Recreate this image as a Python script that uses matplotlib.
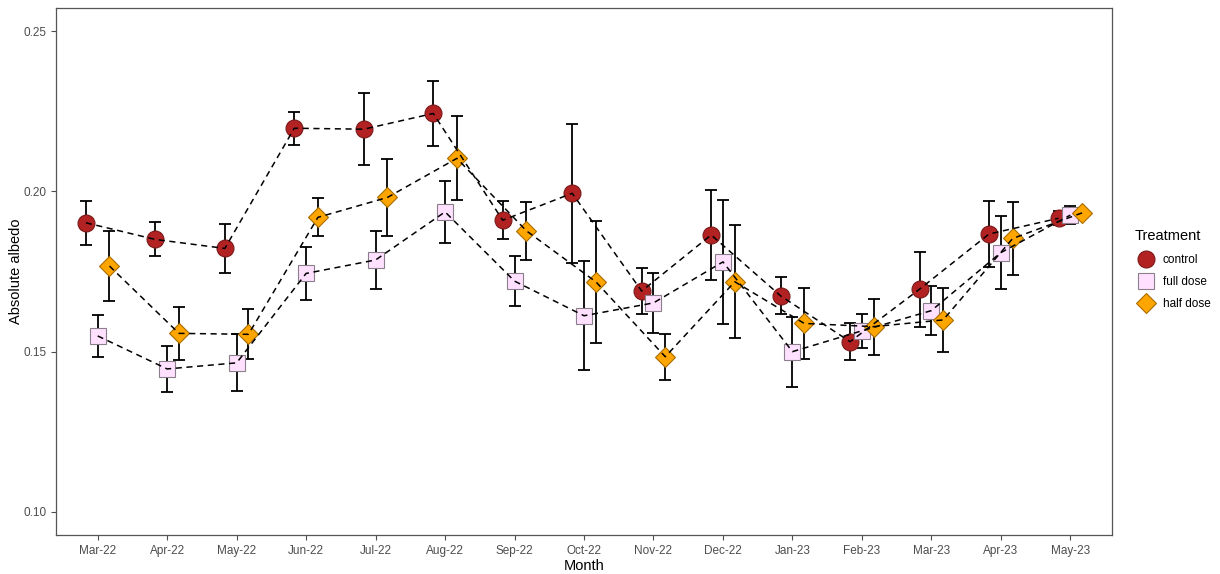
import matplotlib
matplotlib.use("Agg")
import matplotlib.pyplot as plt
import numpy as np

plt.rcParams['font.family'] = ['Liberation Sans', 'DejaVu Sans']

months = ["Mar-22", "Apr-22", "May-22", "Jun-22", "Jul-22", "Aug-22", "Sep-22", "Oct-22",
          "Nov-22", "Dec-22", "Jan-23", "Feb-23", "Mar-23", "Apr-23", "May-23"]

control_mean = [0.1902, 0.1850, 0.1822, 0.2197, 0.2194, 0.2243, 0.1910, 0.1994,
                0.1689, 0.1864, 0.1674, 0.1531, 0.1695, 0.1867, 0.1916]
control_se = [0.0068, 0.0053, 0.0077, 0.0052, 0.0112, 0.0102, 0.0060, 0.0216,
              0.0072, 0.0140, 0.0058, 0.0057, 0.0117, 0.0102, 0.0022]

full_mean = [0.1549, 0.1446, 0.1465, 0.1744, 0.1786, 0.1936, 0.1720, 0.1612,
             0.1652, 0.1780, 0.1500, 0.1565, 0.1628, 0.1809, 0.1926]
full_se = [0.0066, 0.0073, 0.0089, 0.0083, 0.0090, 0.0097, 0.0077, 0.0170,
           0.0094, 0.0193, 0.0109, 0.0053, 0.0077, 0.0115, 0.0028]

half_mean = [0.1767, 0.1557, 0.1554, 0.1919, 0.1981, 0.2103, 0.1877, 0.1718,
             0.1484, 0.1718, 0.1588, 0.1578, 0.1599, 0.1853, 0.1933]
half_se = [0.0110, 0.0083, 0.0078, 0.0059, 0.0121, 0.0131, 0.0090, 0.0190,
           0.0071, 0.0177, 0.0112, 0.0087, 0.0099, 0.0115, 0.0010]

groups = ["control", "full dose", "half dose"]
fills = ["#B22222", "#FFE1FF", "#FFA500"]
edges = ["#7a1a1a", "#8c7f8c", "#a86d00"]
markers = ["o", "s", "D"]
sizes = [12.2, 11.5, 10.2]
offsets = [-0.17, 0.0, 0.17]

fig = plt.figure(figsize=(12.2, 5.74), dpi=100)
ax = fig.add_axes([0.0459, 0.068, 0.8656, 0.918])

x = np.arange(len(months))
means = [control_mean, full_mean, half_mean]
ses = [control_se, full_se, half_se]

handles = []
for i in range(3):
    xi = x + offsets[i]
    ax.errorbar(xi, means[i], yerr=ses[i], fmt="none", ecolor="black",
                elinewidth=1.3, capsize=4.5, capthick=1.3, zorder=2)
    h, = ax.plot(xi, means[i], linestyle="none", marker=markers[i], markersize=sizes[i],
                 markerfacecolor=fills[i], markeredgecolor=edges[i], markeredgewidth=0.8,
                 zorder=3)
    handles.append(h)
# dashed lines go over the points, like in the original
for i in range(3):
    ax.plot(x + offsets[i], means[i], color="black", linestyle=(0, (4, 3)),
            linewidth=1.1, zorder=4)

ax.set_xlim(-0.6, 14.6)
ax.set_ylim(0.0928, 0.2572)
ax.set_xticks(x)
ax.set_xticklabels(months)
ax.set_yticks([0.10, 0.15, 0.20, 0.25])
ax.set_yticklabels(["0.10", "0.15", "0.20", "0.25"])
ax.tick_params(axis="both", labelsize=8.5, colors="#4D4D4D", length=3.5, width=0.8)
for s in ax.spines.values():
    s.set_color("#555555")
    s.set_linewidth(0.9)

ax.set_xlabel("Month", fontsize=10.5, labelpad=2)
ax.set_ylabel("Absolute albedo", fontsize=10.5, labelpad=0)

leg = fig.legend(handles, groups, title="Treatment", loc="center left",
                 bbox_to_anchor=(0.926, 0.53), frameon=False, fontsize=8.5,
                 title_fontsize=10.5, handletextpad=0.4, labelspacing=0.85,
                 borderaxespad=0.0)
leg._legend_box.align = "left"
leg._legend_box.sep = 8

fig.savefig("out.png", dpi=100)
